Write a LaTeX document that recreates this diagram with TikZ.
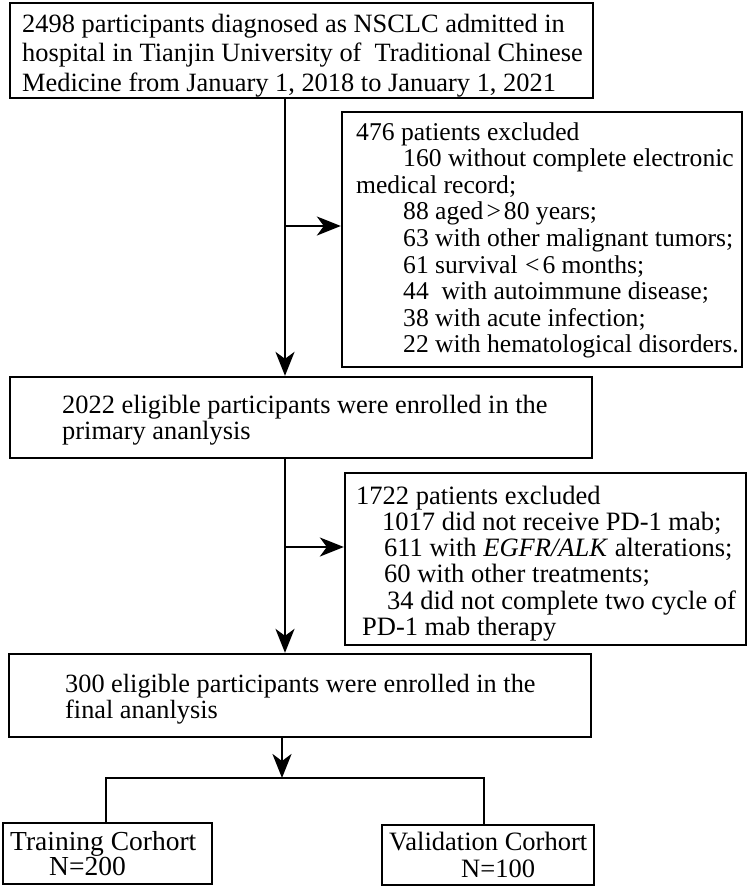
\documentclass[tikz,border=0pt]{standalone}
\usepackage{fontspec}
\setmainfont{Liberation Serif}
\usetikzlibrary{arrows.meta}
\begin{document}
\begin{tikzpicture}[x=1pt,y=-1pt,
  boxst/.style={draw, line width=2.3pt, rectangle, inner sep=0pt},
  txt/.style={anchor=base west, inner sep=0pt},
  conn/.style={line width=2.3pt},
  arr/.style={conn, -{Stealth[length=24pt,width=19pt,inset=7pt]}}
]
\useasboundingbox (0,0) rectangle (749,887);
% boxes
\node[boxst, minimum width=583pt, minimum height=95pt] (b1) at (301.5,50.5) {};
\node[boxst, minimum width=400pt, minimum height=255pt] (e1) at (542,239.5) {};
\node[boxst, minimum width=582pt, minimum height=81pt] (b2) at (301,417.5) {};
\node[boxst, minimum width=401pt, minimum height=172pt] (e2) at (545.5,559) {};
\node[boxst, minimum width=582pt, minimum height=83pt] (b3) at (300,695.5) {};
\node[boxst, minimum width=209pt, minimum height=61pt] (tr) at (107.5,853.5) {};
\node[boxst, minimum width=212pt, minimum height=60pt] (vr) at (488,855) {};
% texts
\node[txt, font=\fontsize{26.4}{29.5}\selectfont] (t1) at (22,32) {\begin{tabular}[t]{@{}l@{}}2498 participants diagnosed as NSCLC admitted in\\ hospital in Tianjin University of\ \ Traditional Chinese\\ Medicine from January 1, 2018 to January 1, 2021\end{tabular}};
\node[txt, font=\fontsize{25.6}{26.6}\selectfont] (t2) at (356,140) {\begin{tabular}[t]{@{}l@{}}476 patients excluded\\
\hspace*{47pt}160 without complete electronic\\
medical record;\\
\hspace*{47pt}88 aged\hspace{3pt}>\hspace{3pt}80 years;\\
\hspace*{47pt}63 with other malignant tumors;\\
\hspace*{47pt}61 survival \hspace{1pt}<\hspace{3pt}6 months;\\
\hspace*{47pt}44\ \ with autoimmune disease;\\
\hspace*{47pt}38 with acute infection;\\
\hspace*{47pt}22 with hematological disorders.\end{tabular}};
\node[txt, font=\fontsize{26.4}{26}\selectfont] (t3) at (62,413) {\begin{tabular}[t]{@{}l@{}}2022 eligible participants were enrolled in the\\ primary ananlysis\end{tabular}};
\node[txt, font=\fontsize{26.5}{26.2}\selectfont] (t4) at (356,504) {\begin{tabular}[t]{@{}l@{}}1722 patients excluded\\
\hspace*{26pt}1017 did not receive PD-1 mab;\\
\hspace*{28pt}611 with \textit{EGFR/ALK} alterations;\\
\hspace*{28pt}60 with other treatments;\\
\hspace*{31pt}34 did not complete two cycle of\\
\hspace*{6pt}PD-1 mab therapy\end{tabular}};
\node[txt, font=\fontsize{26.3}{25}\selectfont] (t5) at (65,692) {\begin{tabular}[t]{@{}l@{}}300 eligible participants were enrolled in the\\ final ananlysis\end{tabular}};
\node[txt, font=\fontsize{27.5}{25}\selectfont] (t6) at (10,850) {\begin{tabular}[t]{@{}l@{}}Training Corhort\\ \hspace*{39pt}N=200\end{tabular}};
\node[txt, font=\fontsize{26.5}{27}\selectfont] (t7) at (389,850) {\begin{tabular}[t]{@{}l@{}}Validation Corhort\\ \hspace*{72pt}N=100\end{tabular}};
% connectors
\coordinate (xm) at (285,0);
\coordinate (xn) at (282,0);
\coordinate (j1) at (285,226);
\coordinate (j2) at (285,547);
\coordinate (sp) at (282,778);
\coordinate (cl) at (106,778);
\coordinate (cr) at (484,778);
\draw[arr] (b1.south -| xm) -- (b2.north -| xm);
\draw[arr] (j1) -- (j1 -| e1.west);
\draw[arr] (b2.south -| xm) -- (b3.north -| xm);
\draw[arr] (j2) -- (j2 -| e2.west);
\draw[arr] (b3.south -| xn) -- (sp);
\draw[conn] (tr.north -| cl) -- (cl) -- (cr) -- (vr.north -| cr);
\end{tikzpicture}
\end{document}
